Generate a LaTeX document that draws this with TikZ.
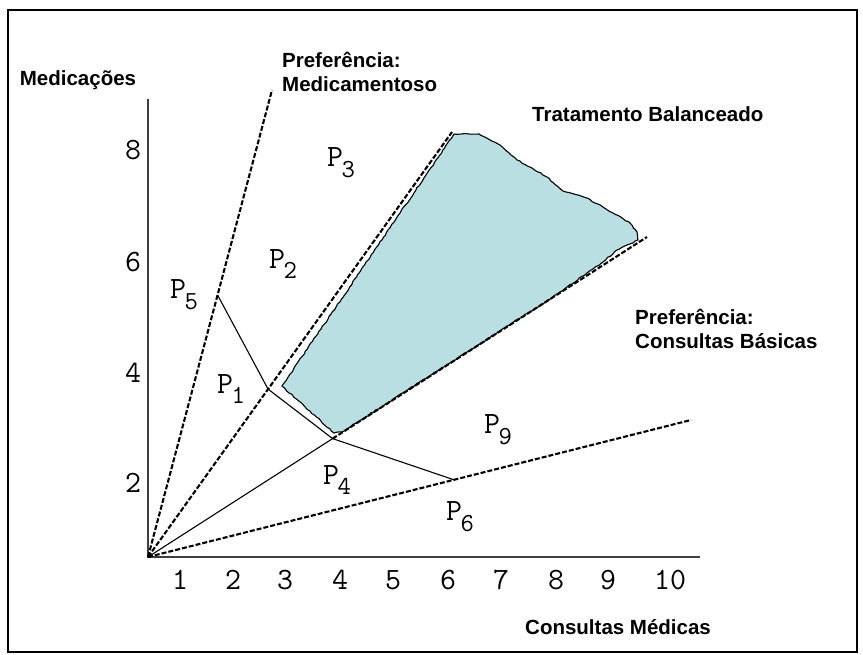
\documentclass[tikz,border=0pt]{standalone}
\usepackage{fontspec}
\newfontfamily\lab{Liberation Sans}
\usetikzlibrary{calc,decorations.pathmorphing}
\definecolor{shadeblue}{RGB}{185,223,227}
\tikzset{
 dline/.style={line width=2.1pt, dash pattern=on 5pt off 2pt},
 tline/.style={line width=1.1pt},
 axisline/.style={line width=1.8pt, draw=black!75},
 title/.style={font=\fontsize{20.5}{24.5}\selectfont\lab\bfseries, inner sep=0pt, align=left},
 num/.style={font=\fontsize{31}{31}\selectfont\ttfamily, inner sep=0pt},
 plab/.style={font=\fontsize{31}{31}\selectfont\ttfamily, inner sep=0pt},
 rough/.style={decorate, decoration={random steps, segment length=3pt, amplitude=0.6pt}},
}
\newcommand{\PL}[1]{P\kern-0.05em\raisebox{-0.35em}{\fontsize{26}{26}\selectfont #1}}
\begin{document}
\begin{tikzpicture}[x=1pt,y=-1pt]
\useasboundingbox (0,0) rectangle (863,655);
\draw[line width=2.5pt] (8,10) rectangle (857,652);
% axes
\coordinate (O) at (148,557);
\coordinate (ytop) at (148,99);
\coordinate (xend) at (700,557);
\draw[axisline] (ytop) -- (O) -- (xend);
% line ends
\coordinate (L1) at (272,90);
\coordinate (L2) at (452,132);
\coordinate (L3) at (647,237);
\coordinate (L4) at (691,420);
\coordinate (J5) at ($(O)!0.561!(L1)$);
\coordinate (J1) at ($(O)!0.395!(L2)$);
\coordinate (J4) at ($(O)!0.37!(L3)$);
\coordinate (J6) at ($(O)!0.5635!(L4)$);
% shaded region
\path[fill=shadeblue, draw=black, line width=1.1pt, rough]
 (282,386) -- (454,134) -- (479,134) -- (500,145) -- (517,160) -- (547,177)
 -- (563,191) -- (587,198) -- (613,213) -- (630,223) -- (637,232) -- (638,240)
 -- (617,250) -- (603,262) -- (587,273) -- (567,287) -- (553,297) -- (342,432)
 -- (334,433) -- cycle;
% lines
\draw[dline] (O) -- (L1);
\draw[dline] (O) -- (L2);
\draw[tline] (O) -- (J4);
\draw[dline] (J4) -- (L3);
\draw[dline] (O) -- (L4);
\draw[tline] (J5) -- (J1) -- (J4) -- (J6);
% titles
\node[title, anchor=center] (med) at (78,80) {Medicações};
\node[title, anchor=west] (pm) at (282,72) {Preferência:\\Medicamentoso};
\node[title, anchor=west] (tb) at (532,114) {Tratamento Balanceado};
\node[title, anchor=west] (pc) at (635,329) {Preferência:\\Consultas Básicas};
\node[title, anchor=west] (cm) at (525,627) {Consultas Médicas};
% y labels
\node[num] (y8) at (133,150) {8};
\node[num] (y6) at (133,262) {6};
\node[num] (y4) at (133,373) {4};
\node[num] (y2) at (133,483) {2};
% x labels
\node[num] (x1) at (180,580) {1};
\node[num] (x2) at (233,580) {2};
\node[num] (x3) at (285,580) {3};
\node[num] (x4) at (340,580) {4};
\node[num] (x5) at (393,580) {5};
\node[num] (x6) at (448,580) {6};
\node[num] (x7) at (501,580) {7};
\node[num] (x8) at (556,580) {8};
\node[num] (x9) at (608,580) {9};
\node[num] (x10) at (670,580) {10};
% P labels
\node[plab] (p3) at (341,163) {\PL{3}};
\node[plab] (p2) at (283,264) {\PL{2}};
\node[plab] (p5) at (184,295) {\PL{5}};
\node[plab] (p1) at (231,389) {\PL{1}};
\node[plab] (p4) at (337,480) {\PL{4}};
\node[plab] (p9) at (498,430) {\PL{9}};
\node[plab] (p6) at (460,517) {\PL{6}};
\end{tikzpicture}
\end{document}
